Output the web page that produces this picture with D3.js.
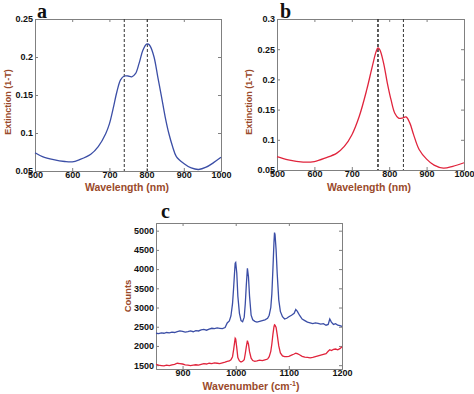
<!DOCTYPE html>
<html>
<head>
<meta charset="utf-8">
<script src="https://cdn.jsdelivr.net/npm/d3@7"></script>
<style>
  body { margin: 0; background: #fff; }
  svg text { font-family: "Liberation Sans", Arial, sans-serif; }
</style>
</head>
<body>
<svg id="chart" width="474" height="394"></svg>
<script>
// ---- data ----
var wavelengthA = [500,520,550,580,600,620,650,670,690,700,710,720,730,740,750,760,770,780,790,800,805,810,820,830,840,850,860,870,880,900,920,940,960,980,1000];
var extinctionA = [0.074,0.069,0.065,0.0625,0.062,0.065,0.072,0.082,0.099,0.112,0.132,0.154,0.170,0.175,0.175,0.174,0.178,0.192,0.209,0.217,0.217,0.214,0.200,0.174,0.148,0.121,0.099,0.082,0.069,0.060,0.054,0.052,0.055,0.061,0.068];
var markersA = [740, 802];

var wavelengthB = [500,530,570,600,630,660,680,700,720,740,755,765,770,775,785,795,805,815,825,835,845,855,865,880,900,920,945,970,1000];
var extinctionB = [0.072,0.0666,0.063,0.064,0.070,0.078,0.089,0.108,0.139,0.183,0.222,0.246,0.252,0.249,0.227,0.194,0.166,0.144,0.136,0.136,0.138,0.128,0.109,0.084,0.068,0.058,0.053,0.056,0.062];
var markersB = [770, 838];

var wavelengthTicks = [500,600,700,800,900,1000];
var extinctionTicksA = [0.05,0.1,0.15,0.2,0.25];
var extinctionTicksB = [0.05,0.1,0.15,0.2,0.25,0.3];

var wavenumbers = [850,855,860,865,870,875,880,885,890,895,900,905,910,915,920,925,930,935,940,945,950,955,960,965,970,975,980,
  984,988,991,994,996,998,999,1000,1002,1004,
  1007,1010,1013,1016,1018,1020,1022,1024,1026,1029,
  1032,1036,1040,1045,1050,1055,1060,1063,1066,1068,
  1070,1072,1073,1074,1076,1078,1081,1084,1088,1092,
  1096,1100,1105,1110,1113,1116,1120,1125,1130,1135,
  1140,1145,1150,1155,1160,1165,1170,1174,1177,1180,
  1184,1188,1192,1196,1200];
var countsBlue = [2330,2320,2340,2330,2350,2340,2360,2350,2370,2390,2380,2360,2370,2390,2370,2400,2390,2420,2430,2410,2440,2460,2450,2470,2460,2450,2480,
  2600,2650,2780,3100,3500,3950,4150,4170,3900,3300,
  2850,2660,2630,2750,3100,3600,4020,3800,3300,2800,
  2680,2640,2620,2640,2660,2680,2720,2800,3000,3350,
  4000,4700,4950,4900,4500,3900,3200,2900,2760,2700,
  2720,2760,2800,2850,2950,2900,2800,2700,2660,2620,
  2600,2580,2600,2590,2570,2580,2540,2560,2700,2620,
  2560,2580,2540,2530,2510];
var countsRed = [1520,1500,1490,1480,1500,1490,1510,1520,1550,1540,1530,1510,1500,1490,1500,1510,1500,1520,1540,1530,1550,1540,1560,1550,1540,1560,1580,
  1600,1610,1640,1720,1900,2100,2200,2180,1950,1700,
  1610,1580,1600,1640,1800,1980,2140,2050,1850,1680,
  1620,1600,1610,1630,1620,1640,1660,1720,1860,2050,
  2300,2500,2550,2540,2480,2300,2000,1820,1740,1720,
  1720,1730,1760,1790,1810,1800,1770,1730,1710,1700,
  1690,1700,1720,1740,1760,1780,1800,1860,1900,1880,
  1910,1920,1900,1930,1980];
var wavenumberTicks = [900,1000,1100,1200];
var countTicks = [1500,2000,2500,3000,3500,4000,4500,5000];

var labelColor = '#9a4a2b';
var frameColor = '#808080';
var svg = d3.select('#chart');

// one framed panel, matlab style (ticks inside on all four sides)
function drawPanel(cfg) {
  var x = d3.scaleLinear().domain(cfg.xDomain).range([cfg.left, cfg.right]);
  var y = d3.scaleLinear().domain(cfg.yDomain).range([cfg.bottom, cfg.top]);
  var g = svg.append('g');
  var fmt = d3.format('~g');

  g.append('g').attr('transform', 'translate(0,' + cfg.bottom + ')')
    .call(d3.axisBottom(x).tickValues(cfg.xTicks).tickSize(-3).tickPadding(1).tickFormat(fmt));
  g.append('g').attr('transform', 'translate(0,' + cfg.top + ')')
    .call(d3.axisTop(x).tickValues(cfg.xTicks).tickSize(-3).tickFormat(''));
  g.append('g').attr('transform', 'translate(' + cfg.left + ',0)')
    .call(d3.axisLeft(y).tickValues(cfg.yTicks).tickSize(-3).tickPadding(2).tickFormat(fmt));
  g.append('g').attr('transform', 'translate(' + cfg.right + ',0)')
    .call(d3.axisRight(y).tickValues(cfg.yTicks).tickSize(-3).tickFormat(''));

  g.selectAll('.domain').attr('stroke', frameColor);
  g.selectAll('.tick line').attr('stroke', frameColor);
  g.selectAll('.tick text')
    .style('font-size', '9px')
    .style('font-weight', 'bold')
    .attr('fill', '#111');

  // dashed markers
  (cfg.markers || []).forEach(function (m, i) {
    g.append('line')
      .attr('x1', x(m)).attr('x2', x(m))
      .attr('y1', cfg.top).attr('y2', cfg.bottom)
      .attr('stroke', '#333')
      .attr('stroke-width', cfg.markerWidths ? cfg.markerWidths[i] : 1)
      .attr('stroke-dasharray', '3,2');
  });

  cfg.series.forEach(function (s) {
    var line = d3.line()
      .x(function (d, i) { return x(s.xs[i]); })
      .y(function (d) { return y(d); })
      .curve(s.curve || d3.curveLinear);
    g.append('path')
      .datum(s.ys)
      .attr('d', line)
      .attr('fill', 'none')
      .attr('stroke', s.color)
      .attr('stroke-width', 1.3);
  });

  // axis titles
  g.append('text')
    .attr('x', cfg.xTitleX || (cfg.left + cfg.right) / 2)
    .attr('y', cfg.xTitleY)
    .attr('text-anchor', 'middle')
    .style('font-size', '10.5px').style('font-weight', 'bold')
    .attr('fill', labelColor)
    .html(cfg.xTitle);
  g.append('text')
    .attr('transform', 'translate(' + cfg.yTitleX + ',' + cfg.yTitleY + ') rotate(-90)')
    .attr('text-anchor', 'middle')
    .style('font-size', cfg.yTitleSize || '9px').style('font-weight', 'bold')
    .attr('fill', labelColor)
    .text(cfg.yTitle);

  // panel letter
  g.append('text')
    .attr('x', cfg.letterX).attr('y', cfg.letterY)
    .style('font-family', '"Liberation Serif", "Times New Roman", serif')
    .style('font-size', '20px').style('font-weight', 'bold')
    .attr('fill', '#111')
    .text(cfg.letter);
}

drawPanel({
  left: 35, right: 221, top: 19, bottom: 171,
  xDomain: [500, 1000], yDomain: [0.05, 0.25],
  xTicks: wavelengthTicks, yTicks: extinctionTicksA,
  markers: markersA,
  series: [{ xs: wavelengthA, ys: extinctionA, color: '#3b4ea6', curve: d3.curveCatmullRom }],
  xTitle: 'Wavelength (nm)', xTitleX: 127, xTitleY: 190.5,
  yTitle: 'Extinction (1-T)', yTitleX: 11, yTitleY: 102,
  letter: 'a', letterX: 37, letterY: 18
});

drawPanel({
  left: 277, right: 464, top: 19, bottom: 170,
  xDomain: [500, 1000], yDomain: [0.05, 0.3],
  xTicks: wavelengthTicks, yTicks: extinctionTicksB,
  markers: markersB, markerWidths: [1.6, 1],
  series: [{ xs: wavelengthB, ys: extinctionB, color: '#e0243c', curve: d3.curveCatmullRom }],
  xTitle: 'Wavelength (nm)', xTitleX: 369, xTitleY: 190.5,
  yTitle: 'Extinction (1-T)', yTitleX: 252, yTitleY: 102,
  letter: 'b', letterX: 280, letterY: 18
});

drawPanel({
  left: 156, right: 342, top: 223, bottom: 369,
  xDomain: [850, 1200], yDomain: [1400, 5200],
  xTicks: wavenumberTicks, yTicks: countTicks,
  series: [
    { xs: wavenumbers, ys: countsBlue, color: '#3b4ea6' },
    { xs: wavenumbers, ys: countsRed, color: '#e0243c' }
  ],
  xTitle: 'Wavenumber (cm<tspan dy="-4" font-size="7px">-1</tspan><tspan dy="4">)</tspan>', xTitleX: 251, xTitleY: 390,
  yTitle: 'Counts', yTitleX: 131, yTitleY: 296, yTitleSize: '9.5px',
  letter: 'c', letterX: 161, letterY: 218
});
</script>
</body>
</html>
